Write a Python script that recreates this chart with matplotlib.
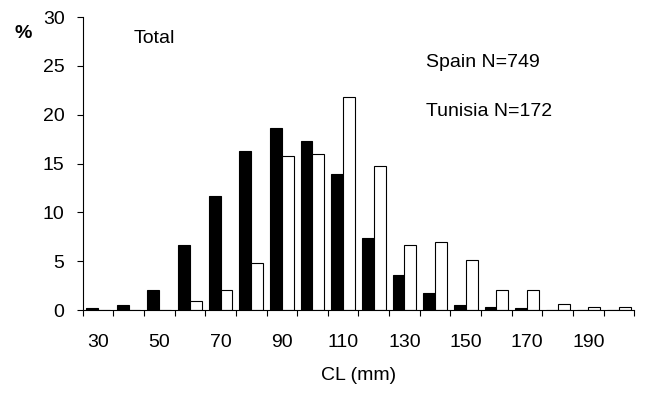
import matplotlib
matplotlib.use("Agg")
import matplotlib.pyplot as plt
import numpy as np

# -------------------------
# Data (size classes, % per class)
# -------------------------
classes = [30, 40, 50, 60, 70, 80, 90, 100, 110, 120,
           130, 140, 150, 160, 170, 180, 190, 200]
spain = [0.2, 0.55, 2.05, 6.7, 11.65, 16.3, 18.6, 17.3, 13.95, 7.4,
         3.6, 1.75, 0.5, 0.3, 0.17, 0.0, 0.0, 0.0]
tunisia = [0.0, 0.0, 0.0, 0.9, 2.1, 4.85, 15.75, 16.0, 21.8, 14.8,
           6.7, 6.95, 5.1, 2.1, 2.1, 0.65, 0.3, 0.3]
tick_labels = ["30", "50", "70", "90", "110", "130", "150", "170", "190"]

plt.rcParams['font.family'] = ['Liberation Sans', 'DejaVu Sans']

fig = plt.figure(figsize=(6.5, 3.96), dpi=100)
ax = fig.add_axes([0.127, 0.217, 0.849, 0.740])

n = len(classes)
idx = np.arange(n)
w = 0.385

ax.bar(idx + 0.5 - w / 2, spain, width=w, color="black",
       edgecolor="black", linewidth=0.8)
ax.bar(idx + 0.5 + w / 2, tunisia, width=w, color="white",
       edgecolor="black", linewidth=0.8)

ax.set_xlim(0, n)
ax.set_ylim(0, 30)

# ticks at class boundaries, labels at every other class centre
ax.set_xticks(np.arange(0, n + 1))
ax.set_xticklabels([])
ax.set_xticks(idx[::2] + 0.5, minor=True)
ax.set_xticklabels(tick_labels, minor=True, fontsize=14)
ax.tick_params(axis="x", which="major", direction="out", length=4, width=0.8)
ax.tick_params(axis="x", which="minor", length=0, pad=17)

ax.set_yticks(np.arange(0, 31, 5))
ax.tick_params(axis="y", direction="out", length=4, width=0.8,
               labelsize=14, pad=9)

for s in ["top", "right"]:
    ax.spines[s].set_visible(False)
for s in ["left", "bottom"]:
    ax.spines[s].set_linewidth(0.8)

ax.set_xlabel("CL (mm)", fontsize=14, labelpad=12)
fig.text(0.035, 0.916, "%", fontsize=14, fontweight="bold",
         ha="center", va="center")

ax.text(1.65, 27.36, "Total", fontsize=14, va="baseline")
ax.text(11.2, 24.93, "Spain N=749", fontsize=14, va="baseline")
ax.text(11.2, 19.86, "Tunisia N=172", fontsize=14, va="baseline")

fig.savefig("out.png", dpi=100)
